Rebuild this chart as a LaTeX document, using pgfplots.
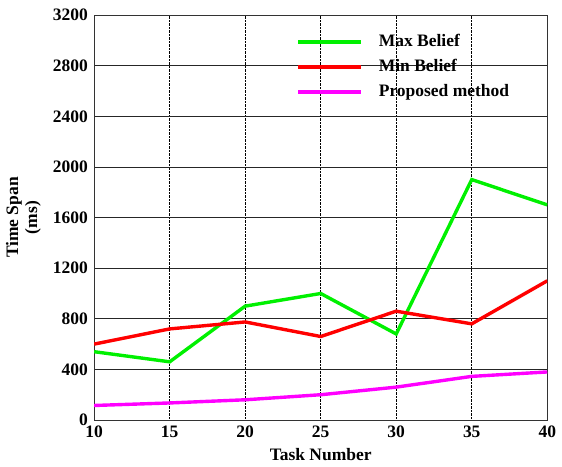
\documentclass[border=0pt]{standalone}
\usepackage{pgfplots}
\pgfplotsset{compat=1.18}
\usepackage{fontspec}
\setmainfont{Liberation Serif}
\begin{document}
\fontsize{18}{19}\selectfont\bfseries
\begin{tikzpicture}
\begin{axis}[
  name=ax,
  scale only axis,
  width=452bp, height=404bp,
  xmin=10, xmax=40, ymin=0, ymax=3200,
  xtick={10,15,20,25,30,35,40},
  ytick={0,400,800,1200,1600,2000,2400,2800,3200},
  /pgf/number format/assume math mode=true,
  /pgf/number format/1000 sep={},
  tick label style={font=\fontsize{17.5}{19}\selectfont\bfseries},
  label style={font=\fontsize{17.5}{19}\selectfont\bfseries},
  xlabel={Task Number},
  ylabel={Time Span\\(ms)},
  ylabel style={align=center, yshift=0pt},
  xlabel style={yshift=2pt},
  major tick length=0pt,
  xmajorgrids, ymajorgrids,
  x grid style={black, densely dotted, line width=0.6pt},
  y grid style={black!85, line width=0.8pt},
  axis line style={black!80, line width=0.8pt},
  legend style={draw=none, fill=none, at={(0.44,0.962)}, anchor=north west,
    font=\fontsize{17.5}{19}\selectfont\bfseries, row sep=6pt},
  legend cell align=left,
  legend image code/.code={\draw[#1] (0cm,0cm) -- (2.2cm,0cm);},
]
\addplot[color={rgb,255:red,0;green,240;blue,0}, line width=3.4pt] coordinates {
 (10,540) (15,460) (20,900) (25,1000) (30,680) (35,1900) (40,1700)};
\addlegendentry{\hspace{0.5cm}Max Belief}
\addplot[color={rgb,255:red,255;green,0;blue,0}, line width=3.4pt] coordinates {
 (10,600) (15,720) (20,775) (25,660) (30,860) (35,760) (40,1100)};
\addlegendentry{\hspace{0.5cm}Min Belief}
\addplot[color={rgb,255:red,255;green,0;blue,255}, line width=3.4pt] coordinates {
 (10,115) (15,135) (20,160) (25,200) (30,260) (35,345) (40,380)};
\addlegendentry{\hspace{0.5cm}Proposed method}
\end{axis}
\path (ax.north west) ++(0,15bp);
\end{tikzpicture}
\end{document}
